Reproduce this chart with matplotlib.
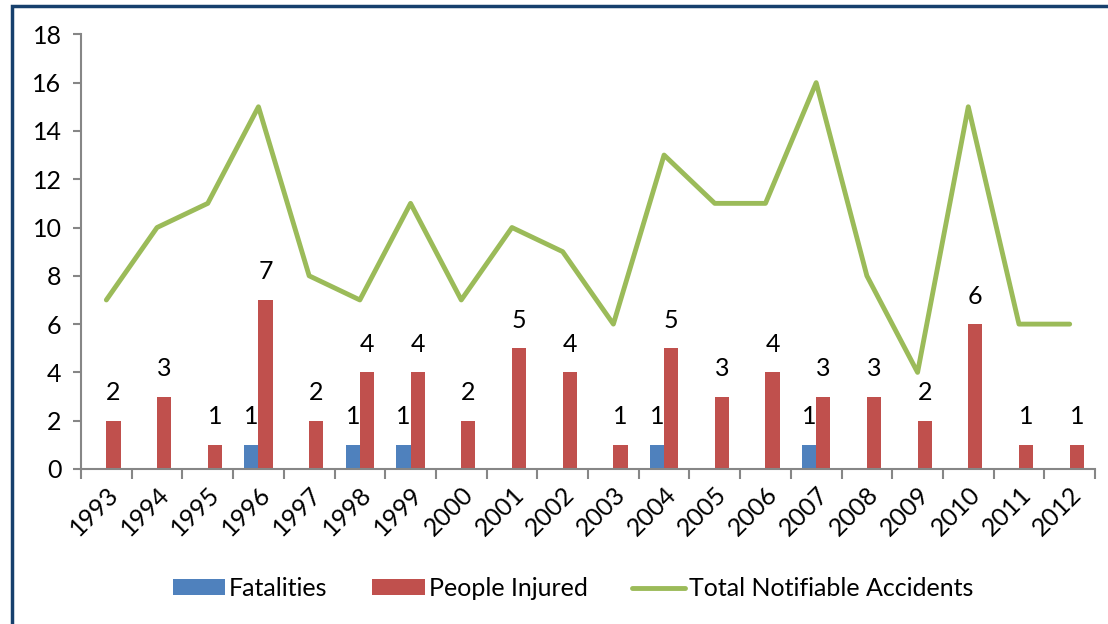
import numpy as np
import matplotlib.pyplot as plt
from matplotlib.patches import Rectangle

plt.rcParams['font.family'] = ['Lato', 'DejaVu Sans']

# Data
years = [str(y) for y in range(1993, 2013)]
fatalities = [0, 0, 0, 1, 0, 1, 1, 0, 0, 0, 0, 1, 0, 0, 1, 0, 0, 0, 0, 0]
injured = [2, 3, 1, 7, 2, 4, 4, 2, 5, 4, 1, 5, 3, 4, 3, 3, 2, 6, 1, 1]
total_accidents = [7, 10, 11, 15, 8, 7, 11, 7, 10, 9, 6, 13, 11, 11, 16, 8, 4, 15, 6, 6]

blue = '#4F81BD'
red = '#C0504D'
green = '#9BBB59'
axis_grey = '#868686'
fs = 18

fig = plt.figure(figsize=(11.08, 6.24), dpi=100)
ax = fig.add_axes([0.0731, 0.2484, 0.9152, 0.6966])

x = np.arange(len(years))
w = 0.28

b1 = ax.bar(x - w / 2, fatalities, w, color=blue, label='Fatalities', zorder=2)
b2 = ax.bar(x + w / 2, injured, w, color=red, label='People Injured', zorder=2)
ln, = ax.plot(x, total_accidents, color=green, lw=3.5, solid_joinstyle='round',
              solid_capstyle='round', label='Total Notifiable Accidents', zorder=3)

# value labels (skip zeros)
for xi, v in zip(x, fatalities):
    if v:
        ax.annotate(str(v), (xi - w / 2, v), xytext=(0, 28), textcoords='offset pixels',
                    ha='center', va='center', fontsize=fs)
for xi, v in zip(x, injured):
    if v:
        ax.annotate(str(v), (xi + w / 2, v), xytext=(0, 28), textcoords='offset pixels',
                    ha='center', va='center', fontsize=fs)

ax.set_xlim(-0.5, len(years) - 0.5)
ax.set_ylim(0, 18)
ax.set_yticks(range(0, 19, 2))
ax.set_xticks(x)
ax.set_xticklabels(years, rotation=45, ha='right', rotation_mode='anchor')
ax.set_xticks(np.arange(-0.5, len(years)), minor=True)

for s in ['top', 'right']:
    ax.spines[s].set_visible(False)
for s in ['left', 'bottom']:
    ax.spines[s].set_color(axis_grey)
    ax.spines[s].set_linewidth(1.5)

ax.tick_params(axis='x', which='major', length=0, pad=10, labelsize=fs)
ax.tick_params(axis='x', which='minor', length=7, width=1.5, color=axis_grey)
ax.tick_params(axis='y', length=6, width=1.5, color=axis_grey, labelsize=fs, pad=8)

fig.legend(handles=[b1, b2, ln], loc='center', bbox_to_anchor=(0.517, 0.057), ncol=3,
           frameon=False, fontsize=fs, handlelength=2.1, handleheight=0.6,
           handletextpad=0.15, columnspacing=1.8)

# outer frame
fig.patches.append(Rectangle((12 / 1108, -0.1), 1.2, 1.1 - 6 / 624,
                             transform=fig.transFigure, fill=False,
                             edgecolor='#17406D', lw=2.5))

fig.savefig('out.png', dpi=100)
